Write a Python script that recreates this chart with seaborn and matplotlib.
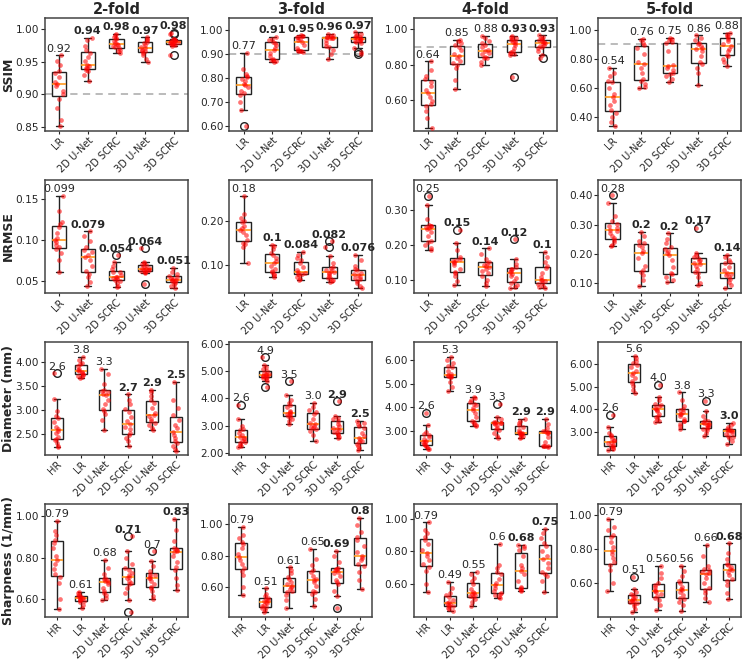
import numpy as np
import pandas as pd
import seaborn as sns
import matplotlib
matplotlib.use("Agg")
import matplotlib.pyplot as plt

METHODS5 = ["LR", "2D U-Net", "2D SCRC", "3D U-Net", "3D SCRC"]
METHODS6 = ["HR"] + METHODS5
FOLDS = ["2-fold", "3-fold", "4-fold", "5-fold"]

# ---------------- SSIM (LR, 2D U-Net, 2D SCRC, 3D U-Net, 3D SCRC) ----------------
ssim_2fold = [
    [0.851, 0.860, 0.879, 0.893, 0.901, 0.905, 0.912, 0.916, 0.919, 0.927, 0.932, 0.936, 0.945, 0.952, 0.960],
    [0.920, 0.930, 0.936, 0.938, 0.940, 0.941, 0.943, 0.945, 0.952, 0.958, 0.963, 0.968, 0.975, 0.984, 0.987],
    [0.964, 0.966, 0.969, 0.971, 0.973, 0.974, 0.976, 0.977, 0.979, 0.982, 0.985, 0.987, 0.989, 0.991, 0.993],
    [0.950, 0.955, 0.961, 0.964, 0.966, 0.967, 0.969, 0.971, 0.973, 0.976, 0.979, 0.981, 0.983, 0.986, 0.988],
    [0.975, 0.976, 0.977, 0.978, 0.978, 0.979, 0.979, 0.980, 0.981, 0.982, 0.982, 0.983, 0.984, 0.985, 0.986,
     0.960, 0.9935, 0.995],
]
ssim_3fold = [
    [0.667, 0.700, 0.728, 0.736, 0.745, 0.760, 0.770, 0.774, 0.785, 0.795, 0.802, 0.806, 0.815, 0.835, 0.905, 0.601],
    [0.867, 0.870, 0.872, 0.875, 0.878, 0.890, 0.905, 0.914, 0.922, 0.935, 0.945, 0.950, 0.956, 0.962, 0.970],
    [0.907, 0.910, 0.912, 0.913, 0.916, 0.925, 0.938, 0.949, 0.955, 0.962, 0.968, 0.971, 0.973, 0.975, 0.976],
    [0.880, 0.900, 0.915, 0.928, 0.932, 0.945, 0.955, 0.964, 0.965, 0.967, 0.969, 0.971, 0.975, 0.979, 0.983],
    [0.924, 0.946, 0.950, 0.951, 0.953, 0.956, 0.960, 0.962, 0.965, 0.968, 0.971, 0.973, 0.976, 0.982, 0.989,
     0.908, 0.899],
]
ssim_4fold = [
    [0.446, 0.500, 0.540, 0.570, 0.580, 0.595, 0.620, 0.640, 0.660, 0.680, 0.705, 0.719, 0.735, 0.770, 0.818],
    [0.664, 0.715, 0.780, 0.800, 0.808, 0.820, 0.835, 0.848, 0.858, 0.880, 0.902, 0.910, 0.925, 0.935, 0.940],
    [0.797, 0.815, 0.835, 0.840, 0.846, 0.858, 0.868, 0.877, 0.885, 0.900, 0.912, 0.920, 0.935, 0.950, 0.962],
    [0.855, 0.862, 0.866, 0.872, 0.878, 0.895, 0.912, 0.925, 0.930, 0.935, 0.938, 0.942, 0.948, 0.955, 0.962, 0.730],
    [0.852, 0.875, 0.895, 0.902, 0.905, 0.912, 0.920, 0.925, 0.930, 0.934, 0.938, 0.942, 0.950, 0.958, 0.965, 0.836],
]
ssim_5fold = [
    [0.337, 0.370, 0.400, 0.430, 0.450, 0.480, 0.510, 0.538, 0.560, 0.600, 0.640, 0.646, 0.680, 0.700, 0.736],
    [0.600, 0.610, 0.630, 0.645, 0.659, 0.700, 0.740, 0.766, 0.780, 0.830, 0.875, 0.893, 0.905, 0.925, 0.936],
    [0.641, 0.660, 0.680, 0.695, 0.705, 0.720, 0.735, 0.748, 0.760, 0.850, 0.905, 0.913, 0.925, 0.935, 0.943],
    [0.618, 0.700, 0.735, 0.765, 0.781, 0.820, 0.850, 0.864, 0.875, 0.890, 0.903, 0.911, 0.925, 0.940, 0.960],
    [0.750, 0.780, 0.800, 0.818, 0.828, 0.850, 0.870, 0.886, 0.900, 0.920, 0.938, 0.948, 0.958, 0.968, 0.977],
]

# ---------------- NRMSE ----------------
nrmse_2fold = [
    [0.060, 0.075, 0.084, 0.088, 0.091, 0.094, 0.097, 0.099, 0.102, 0.108, 0.115, 0.119, 0.122, 0.135, 0.153],
    [0.044, 0.048, 0.055, 0.058, 0.062, 0.068, 0.075, 0.079, 0.081, 0.085, 0.087, 0.091, 0.098, 0.104, 0.110],
    [0.042, 0.044, 0.047, 0.049, 0.051, 0.052, 0.053, 0.054, 0.055, 0.057, 0.060, 0.061, 0.064, 0.068, 0.073, 0.081],
    [0.059, 0.060, 0.061, 0.0615, 0.0625, 0.063, 0.0635, 0.064, 0.065, 0.066, 0.067, 0.069, 0.070, 0.072, 0.073,
     0.0455, 0.0895],
    [0.0415, 0.044, 0.046, 0.047, 0.049, 0.050, 0.0505, 0.051, 0.052, 0.053, 0.055, 0.056, 0.058, 0.061, 0.066],
]
nrmse_3fold = [
    [0.105, 0.140, 0.146, 0.150, 0.156, 0.168, 0.175, 0.180, 0.184, 0.189, 0.196, 0.200, 0.205, 0.215, 0.256],
    [0.073, 0.076, 0.080, 0.083, 0.085, 0.090, 0.098, 0.104, 0.108, 0.115, 0.122, 0.126, 0.135, 0.142, 0.145],
    [0.065, 0.068, 0.072, 0.077, 0.079, 0.080, 0.082, 0.084, 0.089, 0.095, 0.104, 0.110, 0.115, 0.122, 0.129],
    [0.060, 0.063, 0.066, 0.069, 0.071, 0.074, 0.078, 0.081, 0.083, 0.086, 0.089, 0.092, 0.095, 0.104, 0.119,
     0.140, 0.153],
    [0.047, 0.052, 0.058, 0.063, 0.067, 0.070, 0.073, 0.076, 0.078, 0.082, 0.087, 0.091, 0.098, 0.110, 0.122],
]
nrmse_4fold = [
    [0.186, 0.192, 0.200, 0.208, 0.213, 0.225, 0.238, 0.245, 0.249, 0.251, 0.254, 0.256, 0.258, 0.275, 0.314, 0.341],
    [0.084, 0.095, 0.110, 0.118, 0.122, 0.130, 0.142, 0.148, 0.152, 0.155, 0.158, 0.161, 0.165, 0.185, 0.207, 0.243],
    [0.081, 0.090, 0.100, 0.112, 0.118, 0.125, 0.132, 0.136, 0.139, 0.143, 0.148, 0.152, 0.160, 0.175, 0.190],
    [0.076, 0.080, 0.086, 0.092, 0.095, 0.105, 0.112, 0.117, 0.121, 0.125, 0.130, 0.132, 0.137, 0.145, 0.159, 0.216],
    [0.076, 0.078, 0.082, 0.088, 0.092, 0.095, 0.098, 0.100, 0.108, 0.120, 0.133, 0.139, 0.150, 0.165, 0.181],
]
nrmse_5fold = [
    [0.228, 0.232, 0.240, 0.248, 0.253, 0.262, 0.272, 0.278, 0.282, 0.288, 0.295, 0.302, 0.312, 0.330, 0.375, 0.400],
    [0.090, 0.110, 0.128, 0.138, 0.144, 0.160, 0.185, 0.203, 0.210, 0.222, 0.232, 0.236, 0.245, 0.262, 0.276],
    [0.103, 0.110, 0.120, 0.130, 0.134, 0.155, 0.180, 0.196, 0.203, 0.210, 0.218, 0.222, 0.238, 0.250, 0.270],
    [0.093, 0.100, 0.120, 0.135, 0.140, 0.150, 0.158, 0.165, 0.169, 0.175, 0.180, 0.185, 0.189, 0.196, 0.203, 0.290],
    [0.085, 0.095, 0.105, 0.115, 0.121, 0.127, 0.132, 0.136, 0.145, 0.155, 0.168, 0.172, 0.180, 0.190, 0.198],
]

# ---------------- Diameter (HR, LR, 2D U-Net, 2D SCRC, 3D U-Net, 3D SCRC) ----------------
diam_hr = [2.23, 2.26, 2.31, 2.38, 2.41, 2.45, 2.52, 2.56, 2.60, 2.66, 2.75, 2.83, 2.88, 2.98, 3.24, 3.77]
diam_2fold = [
    diam_hr,
    [3.675, 3.69, 3.72, 3.74, 3.75, 3.77, 3.79, 3.81, 3.83, 3.86, 3.92, 3.96, 3.99, 4.05, 4.11],
    [2.585, 2.80, 2.92, 2.98, 3.02, 3.12, 3.22, 3.31, 3.33, 3.38, 3.41, 3.43, 3.55, 3.75, 3.86],
    [2.245, 2.35, 2.42, 2.48, 2.52, 2.60, 2.66, 2.71, 2.78, 2.86, 2.97, 3.03, 3.12, 3.22, 3.33],
    [2.585, 2.62, 2.70, 2.74, 2.78, 2.82, 2.88, 2.91, 2.95, 3.05, 3.16, 3.22, 3.30, 3.38, 3.43],
    [2.155, 2.20, 2.26, 2.31, 2.35, 2.42, 2.48, 2.55, 2.62, 2.70, 2.80, 2.90, 3.05, 3.22, 3.59],
]
diam_3fold = [
    diam_hr,
    [4.42, 4.64, 4.70, 4.74, 4.78, 4.80, 4.82, 4.84, 4.86, 4.88, 4.91, 4.95, 5.00, 5.08, 5.15, 5.22, 5.50],
    [3.08, 3.18, 3.26, 3.34, 3.37, 3.40, 3.44, 3.46, 3.50, 3.55, 3.68, 3.76, 3.84, 3.95, 4.14, 4.63],
    [2.46, 2.65, 2.80, 2.87, 2.91, 2.96, 3.00, 3.05, 3.12, 3.25, 3.45, 3.51, 3.58, 3.70, 3.84],
    [2.54, 2.60, 2.66, 2.71, 2.74, 2.78, 2.84, 2.88, 2.92, 2.98, 3.08, 3.16, 3.24, 3.30, 3.36, 3.90],
    [2.10, 2.18, 2.25, 2.33, 2.41, 2.45, 2.50, 2.54, 2.62, 2.75, 2.92, 3.00, 3.06, 3.12, 3.18],
]
diam_4fold = [
    diam_hr,
    [4.68, 4.85, 5.05, 5.26, 5.30, 5.32, 5.34, 5.35, 5.42, 5.55, 5.68, 5.73, 5.85, 6.00, 6.12],
    [3.20, 3.25, 3.30, 3.38, 3.44, 3.60, 3.78, 3.90, 3.98, 4.08, 4.15, 4.21, 4.30, 4.38, 4.44],
    [2.70, 2.78, 2.90, 3.04, 3.08, 3.15, 3.25, 3.31, 3.34, 3.35, 3.36, 3.365, 3.40, 3.50, 3.58, 4.16],
    [2.73, 2.76, 2.80, 2.86, 2.88, 2.89, 2.90, 2.91, 2.96, 3.03, 3.18, 3.26, 3.32, 3.42, 3.51],
    [2.35, 2.355, 2.36, 2.36, 2.37, 2.55, 2.75, 2.91, 2.94, 2.97, 3.00, 3.02, 3.15, 3.30, 3.51],
]
diam_5fold = [
    diam_hr,
    [4.71, 4.85, 5.05, 5.18, 5.26, 5.40, 5.52, 5.62, 5.70, 5.85, 5.97, 6.03, 6.15, 6.25, 6.35],
    [3.43, 3.50, 3.58, 3.66, 3.70, 3.80, 3.92, 3.98, 4.02, 4.08, 4.14, 4.18, 4.22, 4.40, 4.56, 5.07],
    [3.15, 3.25, 3.38, 3.47, 3.51, 3.60, 3.70, 3.78, 3.82, 3.90, 3.98, 4.04, 4.15, 4.40, 4.76],
    [2.81, 2.95, 3.08, 3.16, 3.19, 3.24, 3.30, 3.32, 3.36, 3.40, 3.46, 3.50, 3.55, 3.70, 3.91, 4.37],
    [2.49, 2.62, 2.72, 2.80, 2.84, 2.90, 2.98, 3.03, 3.05, 3.08, 3.11, 3.13, 3.22, 3.32, 3.41],
]

# ---------------- Sharpness ----------------
sharp_hr = [0.555, 0.600, 0.680, 0.705, 0.722, 0.745, 0.770, 0.790, 0.810, 0.845, 0.870, 0.885, 0.910, 0.930, 0.978]
sharp_2fold = [
    sharp_hr,
    [0.558, 0.570, 0.585, 0.590, 0.594, 0.598, 0.602, 0.605, 0.608, 0.612, 0.615, 0.617, 0.622, 0.630, 0.636],
    [0.595, 0.605, 0.620, 0.632, 0.638, 0.655, 0.672, 0.684, 0.688, 0.692, 0.698, 0.702, 0.720, 0.750, 0.790],
    [0.540, 0.595, 0.630, 0.655, 0.672, 0.680, 0.690, 0.700, 0.709, 0.715, 0.725, 0.740, 0.752, 0.770, 0.800,
     0.830, 0.902],
    [0.600, 0.615, 0.640, 0.655, 0.660, 0.675, 0.690, 0.700, 0.704, 0.710, 0.716, 0.722, 0.735, 0.760, 0.784, 0.830],
    [0.645, 0.670, 0.700, 0.740, 0.754, 0.780, 0.810, 0.827, 0.830, 0.835, 0.842, 0.848, 0.880, 0.935, 0.987],
]
sharp_3fold = [
    sharp_hr,
    [0.448, 0.460, 0.470, 0.478, 0.482, 0.490, 0.500, 0.511, 0.515, 0.520, 0.530, 0.536, 0.545, 0.560, 0.594],
    [0.474, 0.520, 0.550, 0.570, 0.576, 0.590, 0.602, 0.611, 0.620, 0.635, 0.655, 0.665, 0.690, 0.710, 0.726],
    [0.484, 0.530, 0.560, 0.570, 0.576, 0.610, 0.635, 0.649, 0.655, 0.672, 0.700, 0.710, 0.740, 0.780, 0.842],
    [0.470, 0.547, 0.580, 0.625, 0.632, 0.650, 0.670, 0.690, 0.700, 0.708, 0.715, 0.718, 0.725, 0.760, 0.800, 0.831],
    [0.590, 0.650, 0.700, 0.735, 0.747, 0.770, 0.785, 0.800, 0.820, 0.860, 0.900, 0.918, 0.950, 0.990, 1.036],
]
sharp_4fold = [
    sharp_hr,
    [0.436, 0.448, 0.458, 0.465, 0.469, 0.474, 0.479, 0.483, 0.490, 0.505, 0.522, 0.532, 0.545, 0.580, 0.615],
    [0.467, 0.490, 0.510, 0.520, 0.528, 0.535, 0.542, 0.548, 0.555, 0.570, 0.600, 0.618, 0.640, 0.660, 0.677],
    [0.518, 0.525, 0.535, 0.542, 0.548, 0.560, 0.580, 0.596, 0.610, 0.630, 0.660, 0.674, 0.700, 0.720, 0.845],
    [0.561, 0.565, 0.572, 0.578, 0.582, 0.620, 0.660, 0.683, 0.700, 0.720, 0.770, 0.810, 0.820, 0.830, 0.840],
    [0.555, 0.620, 0.650, 0.665, 0.675, 0.700, 0.730, 0.755, 0.770, 0.800, 0.830, 0.850, 0.880, 0.910, 0.937],
]
sharp_5fold = [
    sharp_hr,
    [0.430, 0.445, 0.465, 0.478, 0.483, 0.490, 0.495, 0.498, 0.502, 0.510, 0.520, 0.528, 0.538, 0.550, 0.565, 0.635],
    [0.440, 0.470, 0.500, 0.515, 0.525, 0.535, 0.545, 0.556, 0.560, 0.575, 0.590, 0.600, 0.630, 0.660, 0.700],
    [0.435, 0.470, 0.490, 0.505, 0.515, 0.530, 0.545, 0.557, 0.565, 0.580, 0.600, 0.610, 0.640, 0.670, 0.700],
    [0.490, 0.510, 0.540, 0.560, 0.570, 0.600, 0.630, 0.655, 0.660, 0.668, 0.675, 0.681, 0.700, 0.760, 0.825],
    [0.505, 0.540, 0.590, 0.615, 0.625, 0.645, 0.665, 0.676, 0.685, 0.695, 0.705, 0.715, 0.740, 0.780, 0.835],
]

# ---------------- median labels printed above each box ----------------
ssim_labels = [["0.92", "0.94", "0.98", "0.97", "0.98"], ["0.77", "0.91", "0.95", "0.96", "0.97"],
               ["0.64", "0.85", "0.88", "0.93", "0.93"], ["0.54", "0.76", "0.75", "0.86", "0.88"]]
ssim_bold = [[0, 1, 1, 1, 1], [0, 1, 1, 1, 1], [0, 0, 0, 1, 1], [0, 0, 0, 0, 0]]
nrmse_labels = [["0.099", "0.079", "0.054", "0.064", "0.051"], ["0.18", "0.1", "0.084", "0.082", "0.076"],
                ["0.25", "0.15", "0.14", "0.12", "0.1"], ["0.28", "0.2", "0.2", "0.17", "0.14"]]
nrmse_bold = [[0, 1, 1, 1, 1], [0, 1, 1, 1, 1], [0, 1, 1, 1, 1], [0, 1, 1, 1, 1]]
diam_labels = [["2.6", "3.8", "3.3", "2.7", "2.9", "2.5"], ["2.6", "4.9", "3.5", "3.0", "2.9", "2.5"],
               ["2.6", "5.3", "3.9", "3.3", "2.9", "2.9"], ["2.6", "5.6", "4.0", "3.8", "3.3", "3.0"]]
diam_bold = [[0, 0, 0, 1, 1, 1], [0, 0, 0, 0, 1, 1], [0, 0, 0, 0, 1, 1], [0, 0, 0, 0, 0, 1]]
sharp_labels = [["0.79", "0.61", "0.68", "0.71", "0.7", "0.83"], ["0.79", "0.51", "0.61", "0.65", "0.69", "0.8"],
                ["0.79", "0.49", "0.55", "0.6", "0.68", "0.75"], ["0.79", "0.51", "0.56", "0.56", "0.66", "0.68"]]
sharp_bold = [[0, 0, 0, 1, 0, 1], [0, 0, 0, 0, 1, 1], [0, 0, 0, 0, 1, 1], [0, 0, 0, 0, 0, 1]]

# axis limits / ticks per panel
ssim_ylim = [(0.843, 1.018), (0.579, 1.049), (0.426, 1.064), (0.305, 1.08)]
ssim_ticks = [[0.85, 0.90, 0.95, 1.00], [0.6, 0.7, 0.8, 0.9, 1.0], [0.6, 0.8, 1.0], [0.4, 0.6, 0.8, 1.0]]
nrmse_ylim = [(0.035, 0.173), (0.036, 0.293), (0.062, 0.388), (0.067, 0.453)]
nrmse_ticks = [[0.05, 0.10, 0.15], [0.10, 0.20], [0.10, 0.20, 0.30], [0.10, 0.20, 0.30, 0.40]]
diam_ylim = [(2.07, 4.43), (1.94, 6.08), (2.0, 6.77), (2.0, 6.99)]
diam_ticks = [[2.5, 3.0, 3.5, 4.0], [2, 3, 4, 5, 6], [3, 4, 5, 6], [3, 4, 5, 6]]
sharp_ylim = [(0.516, 1.06), (0.417, 1.126), (0.402, 1.092), (0.402, 1.069)]
sharp_ticks = [[0.6, 0.8, 1.0]] * 4

ROWS = [
    ("SSIM", METHODS5, [ssim_2fold, ssim_3fold, ssim_4fold, ssim_5fold], ssim_labels, ssim_bold,
     ssim_ylim, ssim_ticks, 0.9),
    ("NRMSE", METHODS5, [nrmse_2fold, nrmse_3fold, nrmse_4fold, nrmse_5fold], nrmse_labels, nrmse_bold,
     nrmse_ylim, nrmse_ticks, None),
    ("Diameter (mm)", METHODS6, [diam_2fold, diam_3fold, diam_4fold, diam_5fold], diam_labels, diam_bold,
     diam_ylim, diam_ticks, None),
    ("Sharpness (1/mm)", METHODS6, [sharp_2fold, sharp_3fold, sharp_4fold, sharp_5fold], sharp_labels, sharp_bold,
     sharp_ylim, sharp_ticks, None),
]

np.random.seed(3)
sns.set_style("white")
plt.rcParams["font.family"] = ["DejaVu Sans"]

fig, axes = plt.subplots(4, 4, figsize=(7.48, 6.61), dpi=100)
fig.subplots_adjust(left=0.060, right=0.991, top=0.973, bottom=0.067, wspace=0.29, hspace=0.43)

for r, (ylabel, methods, folds, labels, bolds, ylims, ticks, ref) in enumerate(ROWS):
    for c in range(4):
        ax = axes[r, c]
        groups = folds[c]
        df = pd.DataFrame({
            "method": np.concatenate([[m] * len(v) for m, v in zip(methods, groups)]),
            "value": np.concatenate([np.array(v, dtype=float) for v in groups]),
        })
        if ref is not None:
            ax.axhline(ref, color="#b5b5b5", ls=(0, (4, 3)), lw=1.3, zorder=0)
        sns.boxplot(data=df, x="method", y="value", order=methods, width=0.5, color="white",
                    linecolor="#222222", linewidth=1.0,
                    medianprops=dict(color="#ff9a1f", linewidth=1.2),
                    flierprops=dict(marker="o", markerfacecolor="none", markeredgecolor="#222222",
                                    markersize=5.5, markeredgewidth=1.0),
                    ax=ax)
        sns.stripplot(data=df, x="method", y="value", order=methods, color="red", alpha=0.55,
                      size=3.4, jitter=0.15, ax=ax, zorder=3)
        lo, hi = ylims[c]
        off = 0.015 * (hi - lo)
        for i, v in enumerate(groups):
            ax.text(i, max(v) + off, labels[c][i], ha="center", va="bottom", fontsize=8,
                    fontweight="bold" if bolds[c][i] else "normal")
        ax.set_ylim(lo, hi)
        ax.set_xlim(-0.5, len(methods) - 0.5)
        ax.set_yticks(ticks[c])
        ax.set_yticklabels([f"{t:.2f}" for t in ticks[c]], fontsize=7.6)
        ax.set_xticks(range(len(methods)))
        ax.set_xticklabels(methods, rotation=45, ha="right", rotation_mode="anchor", fontsize=7.1)
        ax.tick_params(axis="both", direction="out", length=3, width=0.8, pad=1.2, left=True, bottom=True)
        ax.tick_params(axis="x", length=2.5, pad=0.8)
        ax.set_xlabel("")
        if c == 0:
            ax.set_ylabel(ylabel, fontsize=9, fontweight="bold")
            ax.yaxis.set_label_coords(-0.21, 0.5)
        else:
            ax.set_ylabel("")
        for s in ax.spines.values():
            s.set_color("#444444")
            s.set_linewidth(1.1)
        if r == 0:
            ax.set_title(FOLDS[c], fontsize=10.5, fontweight="bold", pad=3)

fig.savefig("out.png", dpi=100)
